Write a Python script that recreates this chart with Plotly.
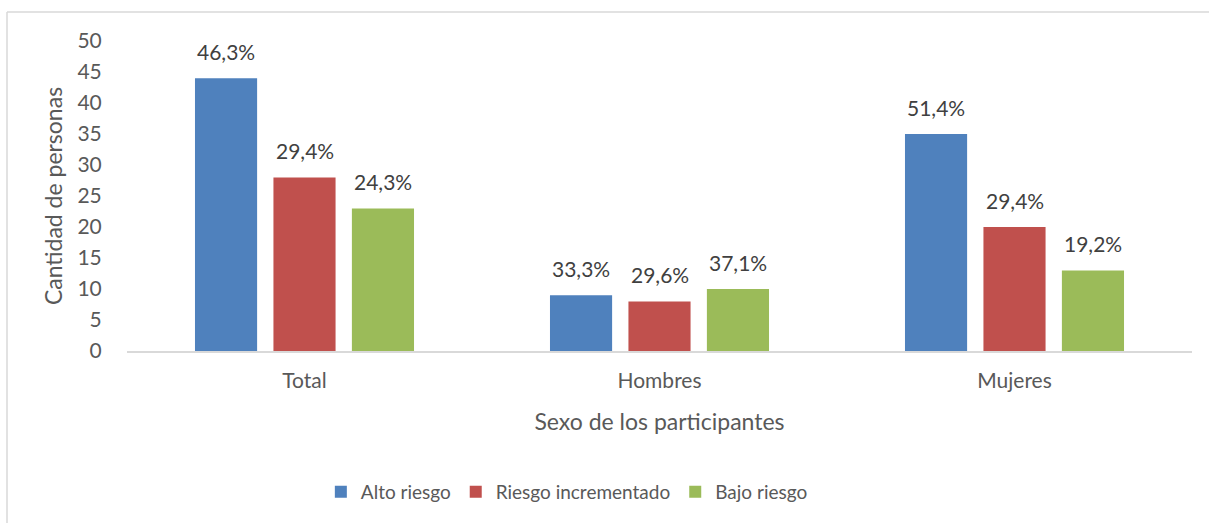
import plotly.graph_objects as go

categories = ["Total", "Hombres", "Mujeres"]
series_names = ["Alto riesgo", "Riesgo incrementado", "Bajo riesgo"]
alto = [44, 9, 35]
incrementado = [28, 8, 20]
bajo = [23, 10, 13]
alto_pct = ["46,3%", "33,3%", "51,4%"]
incrementado_pct = ["29,4%", "29,6%", "29,4%"]
bajo_pct = ["24,3%", "37,1%", "19,2%"]
y_ticks = [0, 5, 10, 15, 20, 25, 30, 35, 40, 45, 50]

colors = ["#4F81BD", "#C0504D", "#9BBB59"]
values = [alto, incrementado, bajo]
labels = [alto_pct, incrementado_pct, bajo_pct]
font_family = "Lato, 'Open Sans', sans-serif"
text_color = "#595959"
label_color = "#404040"

bar_w = 0.175
slot = 0.221
shifts = [-slot, 0.0, slot]

fig = go.Figure()
annotations = []
for name, vals, labs, col, sh in zip(series_names, values, labels, colors, shifts):
    fig.add_trace(go.Bar(
        x=categories, y=vals, name=name,
        marker=dict(color=col, line=dict(width=0)),
        width=bar_w, offset=sh - bar_w / 2,
    ))
    for i, (v, t) in enumerate(zip(vals, labs)):
        annotations.append(dict(
            x=i + sh, y=v, xref="x", yref="y", text=t, showarrow=False,
            yanchor="bottom", yshift=12,
            font=dict(size=21, color=label_color, family=font_family),
        ))

W, H = 1209, 523
ml, mr, mt, mb = 127, 17, 41, 172
pw, ph = W - ml - mr, H - mt - mb

def px_x(p):
    return (p - ml) / pw

def px_y(p):
    return (H - mb - p) / ph

line_col = "#D9D9D9"
shapes = [
    dict(type="line", xref="paper", yref="paper",
         x0=px_x(7), x1=px_x(1209), y0=px_y(12), y1=px_y(12),
         line=dict(color=line_col, width=1.5)),
    dict(type="line", xref="paper", yref="paper",
         x0=px_x(7), x1=px_x(7), y0=px_y(12), y1=px_y(523),
         line=dict(color=line_col, width=1.5)),
]

fig.update_layout(
    width=W, height=H,
    margin=dict(l=ml, r=mr, t=mt, b=mb, autoexpand=False),
    paper_bgcolor="white", plot_bgcolor="white",
    barmode="overlay",
    font=dict(family=font_family, color=text_color, size=19),
    showlegend=True,
    legend=dict(orientation="h", x=0.413, xanchor="center", y=px_y(492), yanchor="middle",
                font=dict(size=19, color=text_color), traceorder="normal"),
    shapes=shapes,
    annotations=annotations,
    xaxis=dict(
        showline=True, linecolor=line_col, linewidth=1.5,
        ticks="outside", ticklen=10, tickcolor="rgba(0,0,0,0)",
        showgrid=False, zeroline=False, range=[-0.5, 2.5],
        tickfont=dict(size=21, color=text_color),
        title=dict(text="Sexo de los participantes", font=dict(size=23, color=text_color), standoff=23),
    ),
    yaxis=dict(
        range=[0, 50], tickvals=y_ticks, showgrid=False, zeroline=False, showline=False,
        ticks="outside", ticklen=20, tickcolor="rgba(0,0,0,0)",
        tickfont=dict(size=21, color=text_color),
        title=dict(text="Cantidad de personas", font=dict(size=23, color=text_color), standoff=8),
    ),
)

fig.write_html("out.html", config={"displayModeBar": False},
               post_script="document.body.style.margin='0';")
